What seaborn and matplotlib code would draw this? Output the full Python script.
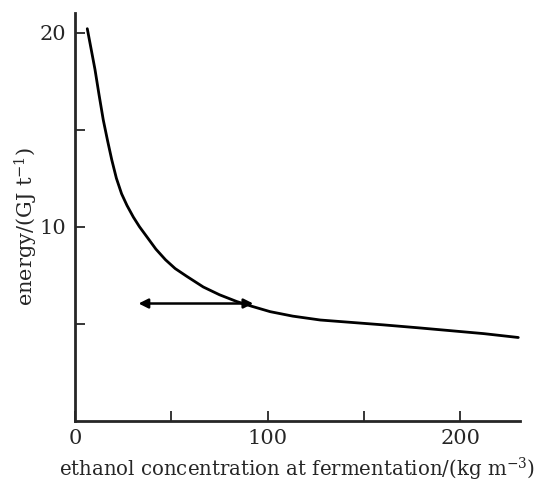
import matplotlib
matplotlib.use("Agg")
import pandas as pd
import matplotlib.pyplot as plt
import seaborn as sns

# === DATA ===
conc = [6.4, 8.5, 10.4, 12.5, 14.7, 17, 19.1, 21.5, 24.2, 27, 30.3, 33.5, 37.2, 42, 47,
        52, 58, 66.6, 75, 84, 92, 101.3, 113, 127.3, 143, 160, 178, 195, 212, 230]
energy = [20.2, 19.1, 18.1, 16.8, 15.5, 14.4, 13.45, 12.5, 11.7, 11.1, 10.5, 10.0, 9.5, 8.85, 8.3,
          7.85, 7.45, 6.9, 6.5, 6.15, 5.9, 5.63, 5.4, 5.2, 5.08, 4.95, 4.8, 4.65, 4.5, 4.3]

arrow_x = [33, 92.5]
arrow_y = 6.05

x_ticks = [0, 50, 100, 150, 200]
x_tick_labels = ["0", "", "100", "", "200"]
y_ticks = [5, 10, 15, 20]
y_tick_labels = ["", "10", "", "20"]

df = pd.DataFrame({"conc": conc, "energy": energy})

# === PLOT ===
sns.set_style("ticks")
plt.rcParams["font.family"] = ["DejaVu Serif"]
plt.rcParams["mathtext.fontset"] = "dejavuserif"

fig = plt.figure(figsize=(5.47, 4.87), dpi=100)
ax = fig.add_axes([0.137, 0.1355, 0.814, 0.8375])

sns.lineplot(data=df, x="conc", y="energy", ax=ax, color="black", linewidth=2,
             solid_joinstyle="round", solid_capstyle="round")

ax.annotate("", xy=(arrow_x[0], arrow_y), xytext=(arrow_x[1], arrow_y),
            arrowprops=dict(arrowstyle="<|-|>", color="black", lw=1.8,
                            mutation_scale=14, shrinkA=0, shrinkB=0))

ax.set_xlim(0, 231)
ax.set_ylim(0, 21)
ax.set_xticks(x_ticks)
ax.set_xticklabels(x_tick_labels)
ax.set_yticks(y_ticks)
ax.set_yticklabels(y_tick_labels)
ax.tick_params(direction="in", length=7, width=1.3, labelsize=15, pad=6)
sns.despine(ax=ax)
for side in ["left", "bottom"]:
    ax.spines[side].set_linewidth(2)

ax.set_xlabel("ethanol concentration at fermentation/(kg m$^{-3}$)", fontsize=14.2)
ax.set_ylabel("energy/(GJ t$^{-1}$)", fontsize=15)
ax.xaxis.set_label_coords(0.5, -0.085)
ax.yaxis.set_label_coords(-0.078, 0.478)

fig.savefig("out.png", dpi=100)
